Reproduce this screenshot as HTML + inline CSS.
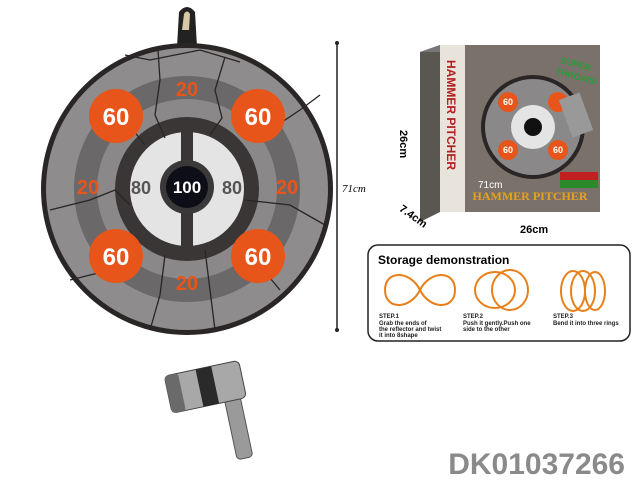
<!DOCTYPE html>
<html><head><style>
body{margin:0;width:640px;height:480px;background:#fff;overflow:hidden;position:relative;font-family:"Liberation Sans",sans-serif}
.a{position:absolute}
</style></head><body>
<svg class="a" style="left:0;top:0" width="640" height="480" viewBox="0 0 640 480">
<path d="M177 47 L179 12 Q187 2 195 12 L197 47 Z" fill="#222"/>
<path d="M182 30 L184 14 Q187 9 190 14 L189 30 Z" fill="#d8c8a8"/>
<circle cx="187" cy="189" r="146" fill="#2a2626"/>
<circle cx="187" cy="189" r="141" fill="#8e8c8c"/>
<circle cx="187" cy="189" r="113" fill="#6a6868"/>
<circle cx="187" cy="189" r="90" fill="#8a8888"/>
<circle cx="187" cy="189" r="72" fill="#3a3636"/>
<circle cx="187" cy="189" r="57" fill="#e4e4e4"/>
<rect x="181" y="132" width="12" height="40" fill="#3a3636"/>
<rect x="181" y="206" width="12" height="40" fill="#3a3636"/>
<circle cx="187" cy="187" r="27" fill="#3a3838"/>
<circle cx="187" cy="187" r="21" fill="#0e0e18"/>
<g stroke="#2a2424" stroke-width="1.3" fill="none">
<path d="M158 50 L160 80 L155 115 L165 138"/><path d="M225 57 L215 90 L222 118 L210 135"/>
<path d="M95 105 L125 120 L145 145"/><path d="M50 210 L90 200 L115 190 L130 205"/>
<path d="M270 130 L300 110 L320 95"/><path d="M245 200 L290 205 L325 225"/>
<path d="M70 280 L110 270 L140 245"/><path d="M150 330 L160 295 L165 255"/>
<path d="M215 330 L210 290 L205 250"/><path d="M280 290 L255 260 L240 240"/>
<path d="M125 55 L150 60 L200 50 L240 62"/>
</g>
<g font-family="Liberation Sans" font-weight="bold" text-anchor="middle">
<g fill="#e8551a">
<circle cx="116" cy="116" r="27"/><circle cx="258" cy="116" r="27"/>
<circle cx="116" cy="256" r="27"/><circle cx="258" cy="256" r="27"/>
</g>
<g fill="#fff" font-size="24">
<text x="116" y="125">60</text><text x="258" y="125">60</text>
<text x="116" y="265">60</text><text x="258" y="265">60</text>
</g>
<g fill="#e8551a" font-size="20">
<text x="187" y="96">20</text><text x="187" y="290">20</text>
<text x="88" y="194">20</text><text x="287" y="194">20</text>
</g>
<text x="141" y="194" font-size="18" fill="#555">80</text>
<text x="232" y="194" font-size="18" fill="#555">80</text>
<text x="187" y="193" font-size="17" fill="#fff">100</text>
</g>
<line x1="337" y1="43" x2="337" y2="330" stroke="#222" stroke-width="1.5"/>
<circle cx="337" cy="43" r="2" fill="#222"/><circle cx="337" cy="330" r="2" fill="#222"/>
<text x="342" y="192" font-size="11" font-family="Liberation Serif" font-style="italic">71cm</text>
<polygon points="420,52 440,45 440,212 420,222" fill="#5a5650"/>
<polygon points="420,52 440,45 600,45 585,52" fill="#777"/>
<rect x="440" y="45" width="160" height="167" fill="#7a726a"/>
<rect x="440" y="45" width="25" height="167" fill="#e8e4dc"/>
<text x="0" y="0" transform="translate(447,60) rotate(90)" font-size="12" font-weight="bold" fill="#b02020">HAMMER PITCHER</text>
<circle cx="533" cy="127" r="52" fill="#2a2626"/>
<circle cx="533" cy="127" r="48" fill="#8a8888"/>
<circle cx="533" cy="127" r="22" fill="#e4e4e4"/>
<circle cx="533" cy="127" r="9" fill="#111"/>
<g fill="#e8551a"><circle cx="508" cy="102" r="10"/><circle cx="508" cy="150" r="10"/><circle cx="558" cy="150" r="10"/><circle cx="558" cy="102" r="10"/></g>
<g fill="#fff" font-size="9" font-weight="bold" text-anchor="middle"><text x="508" y="105">60</text><text x="508" y="153">60</text><text x="558" y="153">60</text></g>
<rect x="565" y="95" width="22" height="40" fill="#999" transform="rotate(-20 576 115)"/>
<text x="560" y="63" font-size="9" font-weight="bold" fill="#2a9a3a" transform="rotate(15 560 63)">SUPER</text>
<text x="555" y="74" font-size="9" font-weight="bold" fill="#2a9a3a" transform="rotate(15 555 74)">THROWS!</text>
<text x="530" y="200" font-size="12" font-weight="bold" fill="#e8a020" text-anchor="middle" font-family="Liberation Serif">HAMMER PITCHER</text>
<rect x="560" y="172" width="38" height="8" fill="#c02020"/><rect x="560" y="180" width="38" height="8" fill="#2a8a2a"/>
<text x="478" y="188" font-size="10" fill="#fff">71cm</text>
<text x="405" y="115" font-size="11" font-weight="bold" transform="rotate(90 395 120)">26cm</text>
<text x="396" y="212" font-size="11" font-weight="bold" transform="rotate(35 400 215)">7.4cm</text>
<text x="520" y="233" font-size="11" font-weight="bold">26cm</text>
<rect x="368" y="245" width="262" height="96" rx="10" fill="#fff" stroke="#222" stroke-width="1.5"/>
<text x="378" y="264" font-size="12" font-weight="bold">Storage demonstration</text>
<g fill="none" stroke="#e8801a" stroke-width="2">
<path d="M385 290 C385 270 410 270 420 290 C430 310 455 310 455 290 C455 270 430 270 420 290 C410 310 385 310 385 290Z"/>
<ellipse cx="495" cy="290" rx="20" ry="18"/><ellipse cx="510" cy="290" rx="18" ry="20"/>
<ellipse cx="573" cy="291" rx="12" ry="20"/><ellipse cx="583" cy="291" rx="12" ry="20"/><ellipse cx="595" cy="291" rx="10" ry="19"/>
</g>
<g font-size="6" font-weight="bold" fill="#222">
<text x="379" y="318">STEP.1</text><text x="379" y="325">Grab the ends of</text><text x="379" y="331">the reflector and twist</text><text x="379" y="337">it into 8shape</text>
<text x="463" y="318">STEP.2</text><text x="463" y="325">Push it gently.Push one</text><text x="463" y="331">side to the other</text>
<text x="553" y="318">STEP.3</text><text x="553" y="325">Bend it into three rings</text>
</g>
<g transform="rotate(-12 205 390)">
<rect x="222" y="400" width="16" height="65" rx="4" fill="#9a9a9a" stroke="#555"/>
<rect x="168" y="368" width="76" height="38" rx="5" fill="#a8a8a8" stroke="#444"/>
<rect x="200" y="368" width="16" height="38" fill="#2a2a2a"/>
<rect x="168" y="368" width="14" height="38" rx="3" fill="#6a6a6a"/>
</g>
<text x="625" y="474" font-size="30" font-weight="bold" fill="#8a8a8a" text-anchor="end">DK01037266</text>
</svg>
</body></html>
